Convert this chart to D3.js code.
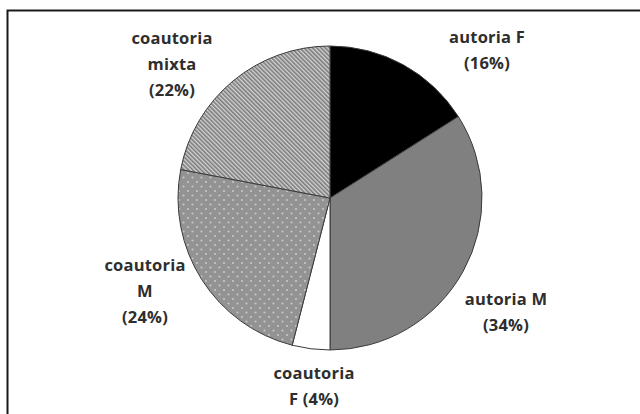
<!DOCTYPE html>
<html>
<head>
<meta charset="utf-8">
<script src="https://cdn.jsdelivr.net/npm/d3@7"></script>
<style>
  body { margin: 0; background: #fff; }
  svg { display: block; }
  .lbl { font-family: "Open Sans", sans-serif; font-weight: 700; font-size: 16.5px; letter-spacing: 0.2px; fill: #2e2e2e; }
</style>
</head>
<body>
<div id="chart"></div>
<script>
// pie data, clockwise from 12 o'clock
const categories = ['autoria F', 'autoria M', 'coautoria F', 'coautoria M', 'coautoria mixta'];
const values = [16, 34, 4, 24, 22];
const labelLines = [
    ['autoria F', '(16%)'],
    ['autoria M', '(34%)'],
    ['coautoria', 'F (4%)'],
    ['coautoria', 'M', '(24%)'],
    ['coautoria', 'mixta', '(22%)']
];
// label anchor (first line) positions
const labelPos = [[487, 43], [506, 305], [314, 379], [145, 271], [172, 44]];

let width = 640, height = 414;
let cx = 330, cy = 198, radius = 152;
let lineGap = 26;

let svg = d3.select('#chart').append('svg')
    .attr('width', width)
    .attr('height', height);

let defs = svg.append('defs');

// dotted fill for coautoria M
let dots = defs.append('pattern')
    .attr('id', 'dots')
    .attr('patternUnits', 'userSpaceOnUse')
    .attr('width', 9).attr('height', 9);
dots.append('rect').attr('width', 9).attr('height', 9).attr('fill', '#939393');
dots.append('circle').attr('cx', 2).attr('cy', 2).attr('r', 1.1).attr('fill', '#c6c6c6');
dots.append('circle').attr('cx', 6.5).attr('cy', 6.5).attr('r', 1.1).attr('fill', '#c6c6c6');

// diagonal hatch for coautoria mixta
let hatch = defs.append('pattern')
    .attr('id', 'hatch')
    .attr('patternUnits', 'userSpaceOnUse')
    .attr('width', 3).attr('height', 3)
    .attr('patternTransform', 'rotate(-45)');
hatch.append('rect').attr('width', 3).attr('height', 3).attr('fill', '#d4d4d4');
hatch.append('rect').attr('width', 1.6).attr('height', 3).attr('fill', '#7a7a7a');

let fills = ['#000000', '#808080', '#ffffff', 'url(#dots)', 'url(#hatch)'];

// frame (top and left edges only)
svg.append('path')
    .attr('d', 'M7.5,' + height + ' V10.5 H' + width)
    .attr('fill', 'none')
    .attr('stroke', '#1a1a1a')
    .attr('stroke-width', 2);

let pie = d3.pie().sort(null).value(d => d)(values);
let arc = d3.arc().innerRadius(0).outerRadius(radius);

let g = svg.append('g').attr('transform', 'translate(' + cx + ',' + cy + ')');
g.selectAll('path')
    .data(pie)
    .enter()
    .append('path')
    .attr('d', arc)
    .attr('fill', (d, i) => fills[i])
    .attr('stroke', '#3a3a3a')
    .attr('stroke-width', 1);

// labels
labelLines.forEach(function(lines, i) {
    let t = svg.append('text')
        .attr('class', 'lbl')
        .attr('text-anchor', 'middle');
    lines.forEach(function(s, j) {
        t.append('tspan')
            .attr('x', labelPos[i][0])
            .attr('y', labelPos[i][1] + j * lineGap)
            .text(s);
    });
});
</script>
</body>
</html>
